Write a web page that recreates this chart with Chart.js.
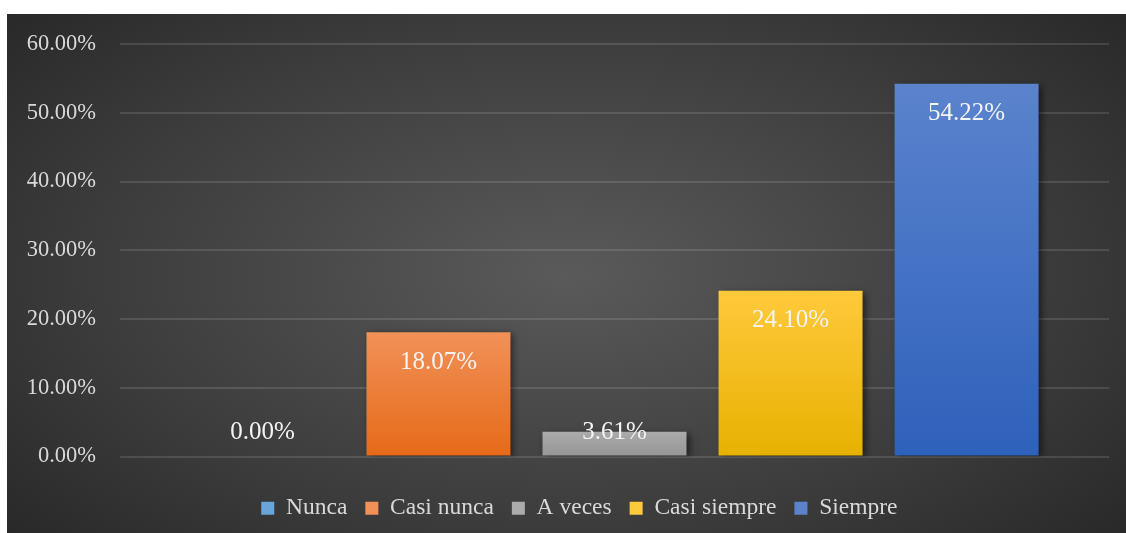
<!DOCTYPE html>
<html>
<head>
<meta charset="utf-8">
<script src="https://cdn.jsdelivr.net/npm/chart.js@4/dist/chart.umd.min.js"></script>
<style>
  html, body { margin: 0; padding: 0; background: #ffffff; }
  #wrap {
    position: absolute; left: 7px; top: 14px; width: 1119px; height: 519px;
    background: radial-gradient(ellipse 70% 80% at 50% 50%, #5a5a5a 0%, #3c3c3c 60%, #262626 100%);
  }
</style>
</head>
<body>
<div id="wrap"><canvas id="chart" width="1119" height="519"></canvas></div>
<script>
// Series (one bar each) and their percentages
const seriesNames = ['Nunca', 'Casi nunca', 'A veces', 'Casi siempre', 'Siempre'];
const seriesValues = [0.00, 18.07, 3.61, 24.10, 54.22];
const yTicks = [0, 10, 20, 30, 40, 50, 60];

// Bar colours (top / bottom of the gradient)
const topColors = ['#6aa5da', '#f19158', '#ababab', '#ffc93c', '#5b83cd'];
const bottomColors = ['#4a8bcb', '#e66a18', '#959595', '#e6b200', '#2e61bb'];

function barGradient(ctx, i) {
    const chart = ctx.chart;
    const yScale = chart.scales.y;
    if (!chart.chartArea || !yScale) return topColors[i];
    const top = yScale.getPixelForValue(seriesValues[i]);
    const bottom = yScale.getPixelForValue(0);
    const g = chart.ctx.createLinearGradient(0, top, 0, Math.max(bottom, top + 1));
    g.addColorStop(0, topColors[i]);
    g.addColorStop(1, bottomColors[i]);
    return g;
}

// Soft shadow under the bars
const shadowPlugin = {
    id: 'barShadow',
    beforeDatasetDraw(chart) {
        const c = chart.ctx;
        c.save();
        c.shadowColor = 'rgba(0,0,0,0.55)';
        c.shadowBlur = 7;
        c.shadowOffsetX = 3;
        c.shadowOffsetY = 2;
    },
    afterDatasetDraw(chart) {
        chart.ctx.restore();
    }
};

// Value labels inside the top of each bar
const valueLabels = {
    id: 'valueLabels',
    afterDatasetsDraw(chart) {
        const c = chart.ctx;
        const base = chart.scales.y.getPixelForValue(0);
        c.save();
        c.font = '25px "Liberation Serif", "Times New Roman", serif';
        c.fillStyle = '#f4f4f4';
        c.textAlign = 'center';
        c.textBaseline = 'middle';
        chart.data.datasets.forEach((ds, i) => {
            const bar = chart.getDatasetMeta(i).data[0];
            const y = Math.min(bar.y + 30, base - 24);
            c.fillText(ds.data[0].toFixed(2) + '%', bar.x, y);
        });
        c.restore();
    }
};

const datasets = seriesNames.map((name, i) => ({
    label: name,
    data: [seriesValues[i]],
    backgroundColor: ctx => barGradient(ctx, i),
    borderWidth: 0,
    categoryPercentage: 0.89,
    barPercentage: 0.818
}));

// legend items, with an empty spacer first so the row sits a bit to the right
function legendItems() {
    const items = [{ text: '', fillStyle: 'rgba(0,0,0,0)', strokeStyle: 'rgba(0,0,0,0)', lineWidth: 0 }];
    seriesNames.forEach((name, i) => items.push({
        text: name,
        fillStyle: topColors[i],
        strokeStyle: topColors[i],
        lineWidth: 0,
        fontColor: '#d9d9d9',
        datasetIndex: i
    }));
    return items;
}

new Chart(document.getElementById('chart'), {
    type: 'bar',
    data: { labels: [''], datasets: datasets },
    options: {
        responsive: false,
        animation: false,
        layout: { padding: { left: 0, right: 17, top: 30, bottom: 3 } },
        plugins: {
            tooltip: { enabled: false },
            legend: {
                position: 'bottom',
                labels: {
                    color: '#d9d9d9',
                    font: { family: '"Liberation Serif", "Times New Roman", serif', size: 23.5 },
                    boxWidth: 13,
                    boxHeight: 13,
                    padding: 18,
                    generateLabels: legendItems
                }
            }
        },
        scales: {
            x: {
                grid: { display: false },
                border: { display: false },
                ticks: { display: false },
                afterFit: s => { s.height = 22; }
            },
            y: {
                min: 0,
                max: 60,
                afterBuildTicks: s => { s.ticks = yTicks.map(v => ({ value: v })); },
                afterFit: s => { s.width = 113; s.paddingTop = 0; s.paddingBottom = 0; },
                border: { display: false },
                grid: { color: 'rgba(255,255,255,0.12)', lineWidth: 2, drawTicks: false },
                ticks: {
                    color: '#d9d9d9',
                    padding: 24,
                    font: { family: '"Liberation Serif", "Times New Roman", serif', size: 22.5 },
                    callback: v => v.toFixed(2) + '%'
                }
            }
        }
    },
    plugins: [shadowPlugin, valueLabels]
});
</script>
</body>
</html>
